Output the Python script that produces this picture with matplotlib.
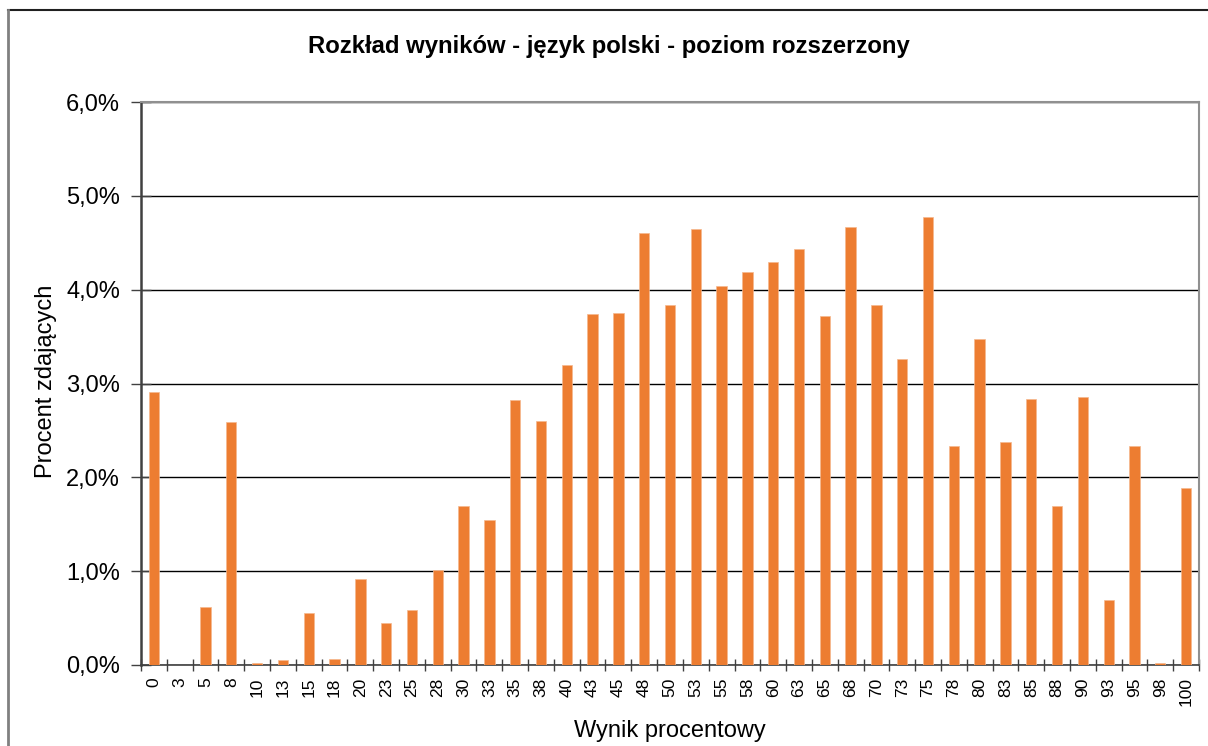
import matplotlib
matplotlib.use("Agg")
import matplotlib.pyplot as plt
from matplotlib.ticker import FuncFormatter, MultipleLocator
from matplotlib.lines import Line2D

plt.rcParams['font.family'] = ['Liberation Sans', 'DejaVu Sans']

categories = ["0", "3", "5", "8", "10", "13", "15", "18", "20", "23", "25", "28",
              "30", "33", "35", "38", "40", "43", "45", "48", "50", "53", "55", "58",
              "60", "63", "65", "68", "70", "73", "75", "78", "80", "83", "85", "88",
              "90", "93", "95", "98", "100"]
values = [2.91, 0.0, 0.62, 2.59, 0.02, 0.05, 0.55, 0.06, 0.92, 0.45, 0.59, 1.01,
          1.69, 1.55, 2.82, 2.60, 3.20, 3.74, 3.75, 4.60, 3.84, 4.65, 4.04, 4.19,
          4.30, 4.43, 3.72, 4.67, 3.84, 3.26, 4.77, 2.33, 3.47, 2.38, 2.83, 1.69,
          2.86, 0.69, 2.33, 0.02, 1.89]

W, H = 1208, 746
fig = plt.figure(figsize=(W / 100, H / 100), dpi=100)
ax = fig.add_axes([141 / W, 1 - 665 / H, (1199 - 141) / W, (665 - 102) / H])

# outer frame (top and left edges visible)
fig.lines.append(Line2D([8 / W, 1.0], [1 - 10 / H, 1 - 10 / H], transform=fig.transFigure,
                        color='#202020', linewidth=1.5))
fig.lines.append(Line2D([8 / W, 8 / W], [0, 1 - 10 / H], transform=fig.transFigure,
                        color='#808080', linewidth=2.0))

x = list(range(len(categories)))
ax.bar(x, values, width=0.4, color='#ED7D31', edgecolor='#F5B88E', linewidth=0.5, zorder=3)

ax.set_xlim(-0.5, len(categories) - 0.5)
ax.set_ylim(0, 6)
ax.yaxis.set_major_locator(MultipleLocator(1))
ax.yaxis.set_major_formatter(FuncFormatter(lambda v, p: f"{v:.1f}%".replace('.', ',')))
ax.grid(axis='y', color='black', linewidth=1.0, zorder=0)

ax.set_xticks(x)
ax.set_xticklabels(categories, rotation=90, fontsize=12.5)
ax.set_xticks([i - 0.5 for i in range(len(categories) + 1)], minor=True)
ax.tick_params(axis='x', which='major', length=0, pad=9)
ax.tick_params(axis='x', which='minor', length=9, width=1, color='#404040', direction='inout')
ax.tick_params(axis='y', which='major', labelsize=17, length=14, width=1,
               color='#404040', direction='inout', pad=8)

for s in ['top', 'right']:
    ax.spines[s].set_color('#909090')
    ax.spines[s].set_linewidth(1.5)
ax.spines['left'].set_color('#404040')
ax.spines['left'].set_linewidth(1.8)
ax.spines['bottom'].set_color('#404040')
ax.spines['bottom'].set_linewidth(1.2)

ax.set_ylabel("Procent zdających", fontsize=17)
ax.yaxis.set_label_coords(57 / W, 1 - 381 / H, transform=fig.transFigure)
ax.set_xlabel("Wynik procentowy", fontsize=17)
ax.xaxis.set_label_coords(670 / W, 1 - 720 / H, transform=fig.transFigure)
fig.text(609 / W, 1 - 46 / H, "Rozkład wyników - język polski - poziom rozszerzony",
         ha='center', va='center', fontsize=17.2, fontweight='bold')

fig.savefig("out.png", dpi=100)
